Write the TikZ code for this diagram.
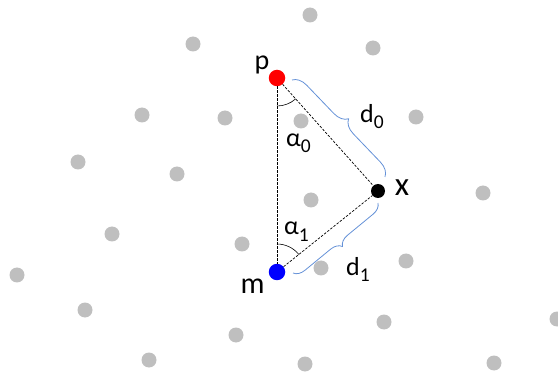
\documentclass[tikz,border=0pt]{standalone}
\usepackage{fontspec}
\setmainfont{Carlito}
\usepackage{tikz}
\usetikzlibrary{decorations.pathreplacing, angles, calc}
\definecolor{dotgray}{RGB}{191,191,191}
\definecolor{braceblue}{RGB}{100,145,215}
\newcommand{\lsub}[1]{\raisebox{-6pt}{\fontsize{19.5}{19.5}\selectfont #1}}

\begin{document}
\begin{tikzpicture}[
  x=1pt, y=1pt,
  site/.style={circle, fill=dotgray, inner sep=0pt, minimum size=15pt},
  pt/.style={circle, inner sep=0pt, minimum size=16.5pt},
  lbl/.style={inner sep=0pt},
  sym/.style={inner sep=0pt, anchor=base west, font=\fontsize{26}{26}\selectfont},
  link/.style={dash pattern=on 2.5pt off 1.5pt, line width=0.7pt},
  brc/.style={draw=braceblue, line width=0.8pt, decorate,
              decoration={brace, amplitude=#1}}
]
  \useasboundingbox (0,0) rectangle (558,373);
  % grey sites
  \foreach [count=\i] \xx/\yy in {310/358, 193/329, 373/325, 142/258, 225/255,
      301/252, 416/256, 78/211, 177/199, 311/173, 483/180, 112/139, 242/129,
      17/98, 321/105, 406/112, 85/63, 384/51, 557/54, 236/38, 149/13,
      305/9, 494/10}
    \node[site] (g\i) at (\xx,\yy) {};
  % the three points
  \node[pt, fill=red] (p) at (277,295) {};
  \node[pt, fill=blue] (m) at (277,101) {};
  \node[pt, fill=black, minimum size=14pt] (x) at (378,182) {};
  \node[lbl, font=\fontsize{28}{28}\selectfont] (plbl) at (262,308) {p};
  \node[lbl, font=\fontsize{30}{30}\selectfont] (mlbl) at (252.5,87) {m};
  \node[lbl, font=\fontsize{33}{33}\selectfont] (xlbl) at (402,185.5) {x};
  % dashed triangle
  \draw[link] (p) -- (m);
  \draw[link] (p) -- (x);
  \draw[link] (m) -- (x);
  % angles
  \pic[draw, line width=0.6pt, angle radius=28pt] {angle=m--p--x};
  \pic[draw, line width=0.6pt, angle radius=28pt] {angle=x--m--p};
  \node[sym] (a0) at (286,226) {α\lsub{0}};
  \node[sym] (a1) at (284,138) {α\lsub{1}};
  % distance braces
  \coordinate (b0s) at (292,293);
  \coordinate (b0e) at (385,196);
  \coordinate (b1s) at (378,170);
  \coordinate (b1e) at (293,100);
  \draw[brc=14pt] (b0s) -- (b0e);
  \draw[brc=11pt] (b1s) -- (b1e);
  \node[sym] (d0) at (360,250) {d\lsub{0}};
  \node[sym] (d1) at (346,98) {d\lsub{1}};
\end{tikzpicture}
\end{document}
